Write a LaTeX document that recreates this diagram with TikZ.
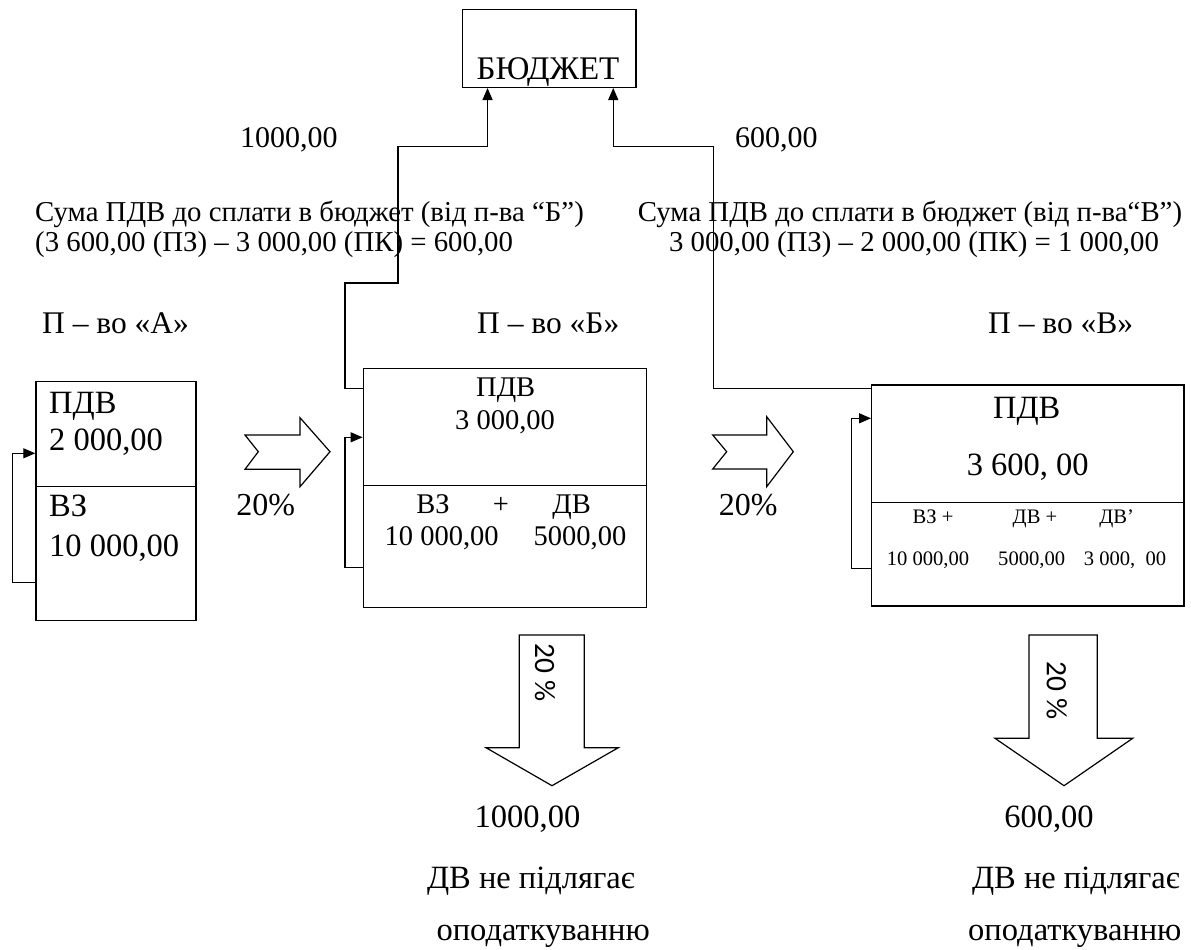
\documentclass[tikz,border=0pt]{standalone}
\usepackage{fontspec}
\setmainfont{Liberation Serif}
\newfontfamily\carl{Carlito}
\usetikzlibrary{arrows.meta,calc}
\begin{document}
\begin{tikzpicture}[x=1pt,y=-1pt,
  box/.style={draw,line width=1.4pt,inner sep=0pt},
  conn/.style={line width=1.3pt},
  arr/.style={conn,-{Triangle[length=12pt,width=10pt]}},
  blk/.style={draw,line width=1.2pt,line join=miter},
  txt/.style={inner sep=0pt},
  fbig/.style={font=\fontsize{30}{36}\selectfont},
  flab/.style={font=\fontsize{31.5}{36}\selectfont},
  fboxa/.style={font=\fontsize{32.5}{38}\selectfont},
  fboxc/.style={font=\fontsize{32.5}{38}\selectfont},
  fmid/.style={font=\fontsize{28.5}{33}\selectfont},
  fblk/.style={font=\fontsize{28.8}{33}\selectfont},
  fsmall/.style={font=\fontsize{20.6}{24}\selectfont},
  fbot/.style={font=\fontsize{32.5}{38}\selectfont},
  fsans/.style={font=\carl\fontsize{29.5}{32}\selectfont},
  ]
\useasboundingbox (0,0) rectangle (1191,950);

% boxes
\node[box,minimum width=173.3pt,minimum height=78pt] (budget) at (549.3,48.3) {};
\node[box,minimum width=160pt,minimum height=239pt] (boxA) at (116,501.2) {};
\node[box,minimum width=283.4pt,minimum height=239.4pt] (boxB) at (505,488) {};
\node[box,minimum width=312.3pt,minimum height=221pt] (boxC) at (1027.85,495.5) {};
\draw[box] (boxA.west |- 0,486.7) -- (boxA.east |- 0,486.7);
\draw[box] (boxB.west |- 0,485.7) -- (boxB.east |- 0,485.7);
\draw[box] (boxC.west |- 0,502.3) -- (boxC.east |- 0,502.3);

% budget text
\node[txt,anchor=base,font=\fontsize{33}{38}\selectfont] (tbud) at (548,80) {БЮДЖЕТ};

% top labels
\node[txt,fbig,anchor=base west] (sumL) at (240,147) {1000,00};
\node[txt,fbig,anchor=base west] (sumR) at (735,147) {600,00};

% explanation blocks
\node[txt,fblk,anchor=base west] (l1) at (35,221) {Сума ПДВ до сплати в бюджет (від п-ва “Б”)};
\node[txt,fblk,anchor=base west] (l2) at (35,251) {(3 600,00 (ПЗ) – 3 000,00 (ПК) = 600,00};
\node[txt,fblk,anchor=base] (r1) at (910,221) {Сума ПДВ до сплати в бюджет (від п-ва“В”)};
\node[txt,fblk,anchor=base] (r2) at (914,251) {3 000,00 (ПЗ) – 2 000,00 (ПК) = 1 000,00};

% enterprise labels
\node[txt,flab,anchor=base west] (pA) at (42,333) {П – во «А»};
\node[txt,flab,anchor=base west] (pB) at (477,333) {П – во «Б»};
\node[txt,flab,anchor=base west] (pC) at (988,333) {П – во «В»};

% box A texts
\node[txt,fboxa,anchor=base west] (a1) at (49,413.3) {ПДВ};
\node[txt,fboxa,anchor=base west] (a2) at (49,450) {2 000,00};
\node[txt,fboxa,anchor=base west] (a3) at (49,516.7) {ВЗ};
\node[txt,fboxa,anchor=base west] (a4) at (49,556.7) {10 000,00};

% box B texts
\node[txt,fmid,anchor=base] (b1) at (505.7,396) {ПДВ};
\node[txt,fmid,anchor=base] (b2) at (505,429.3) {3 000,00};
\node[txt,fmid,anchor=base] (b3) at (433,513.3) {ВЗ};
\node[txt,fmid,anchor=base] (b4) at (501,513.3) {+};
\node[txt,fmid,anchor=base] (b5) at (571.7,513.3) {ДВ};
\node[txt,fmid,anchor=base] (b6) at (441.7,545) {10 000,00};
\node[txt,fmid,anchor=base] (b7) at (580,545) {5000,00};

% box C texts
\node[txt,fboxc,anchor=base] (c1) at (1026.7,418.3) {ПДВ};
\node[txt,fboxc,anchor=base] (c2) at (1027.7,475) {3 600, 00};
\node[txt,fsmall,anchor=base] (c3) at (933,523.3) {ВЗ +};
\node[txt,fsmall,anchor=base] (c4) at (1035,523.3) {ДВ +};
\node[txt,fsmall,anchor=base] (c5) at (1116.7,523.3) {ДВ’};
\node[txt,fsmall,anchor=base] (c6) at (928,565) {10 000,00};
\node[txt,fsmall,anchor=base] (c7) at (1031.7,565) {5000,00};
\node[txt,fsmall,anchor=base] (c8) at (1125,565) {3 000,\ \ 00};

% self loops
\draw[arr] (boxA.west |- 0,582.3) -| (12.7,453.3) -- (boxA.west |- 0,453.3);
\draw[arr] (boxB.west |- 0,567.7) -| (345,437.3) -- (boxB.west |- 0,437.3);
\draw[arr] (boxC.west |- 0,568.3) -| (851.7,418.3) -- (boxC.west |- 0,418.3);

% connectors to budget
\coordinate (inL) at ($(budget.south west)+(25.6,0)$);
\coordinate (inR) at ($(budget.south west)+(151.3,0)$);
\draw[arr] (boxB.west |- 0,388.3) -| (345,283) -| (398,146.7) -| (inL);
\draw[arr] (boxC.west |- 0,388.3) -| (713.3,146.7) -| (inR);

% block arrows right
\draw[blk] (245,435) -- (300,435) -- (300,417.7) -- (330,451.7) -- (300,486.7) -- (300,469.3) -- (245,469.3) -- (258.3,451.7) -- cycle;
\draw[blk] (712.7,435) -- (766.7,435) -- (766.7,416.7) -- (793.3,451.7) -- (766.7,486.7) -- (766.7,469) -- (712.7,469) -- (726.7,451.7) -- cycle;
\node[txt,anchor=base,font=\fontsize{32}{36}\selectfont] (pc1) at (265.7,515) {20\%};
\node[txt,anchor=base,font=\fontsize{32}{36}\selectfont] (pc2) at (748.3,515) {20\%};

% block arrows down
\draw[blk] (519.3,635) -- (584.3,635) -- (584.3,747.7) -- (618.3,747.7) -- (552,785.7) -- (486,747.7) -- (519.3,747.7) -- cycle;
\draw[blk] (1029,635) -- (1097.3,635) -- (1097.3,738.3) -- (1132.7,738.3) -- (1064,785.7) -- (995,738.3) -- (1029,738.3) -- cycle;
\node[txt,fsans,rotate=-90] (d1) at (545,672.5) {20 \%};
\node[txt,fsans,rotate=-90] (d2) at (1056.7,690.5) {20 \%};

% bottom texts
\node[txt,fbot,anchor=base] (e1) at (527.5,827.7) {1000,00};
\node[txt,fbot,anchor=base east] (e2) at (635,888.3) {ДВ не підлягає};
\node[txt,fbot,anchor=base east] (e3) at (650,940) {оподаткуванню};
\node[txt,fbot,anchor=base] (f1) at (1049,827.7) {600,00};
\node[txt,fbot,anchor=base east] (f2) at (1180,888.3) {ДВ не підлягає};
\node[txt,fbot,anchor=base east] (f3) at (1181.7,940) {оподаткуванню};
\end{tikzpicture}
\end{document}
